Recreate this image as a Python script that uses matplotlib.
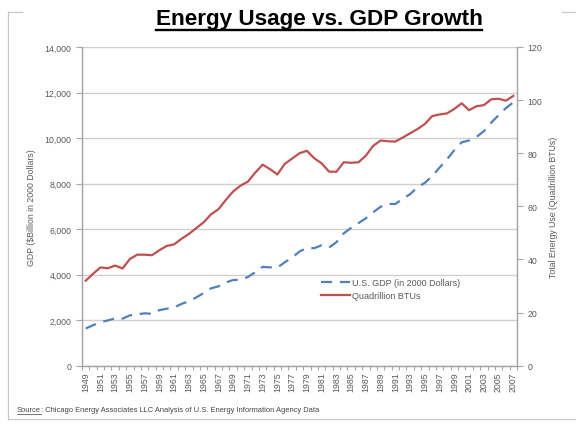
import numpy as np
import matplotlib.pyplot as plt
from matplotlib.lines import Line2D
from matplotlib.ticker import FuncFormatter

plt.rcParams['font.family'] = ['Liberation Sans', 'DejaVu Sans']

# Años 1949-2007
anios = list(range(1949, 2008))

# PIB real de EE.UU. (miles de millones de dólares de 2000)
pib = [1635, 1777, 1915, 1988, 2080, 2065, 2213, 2256, 2301, 2279,
       2441, 2502, 2560, 2715, 2834, 2999, 3191, 3399, 3485, 3653,
       3765, 3772, 3899, 4105, 4342, 4320, 4311, 4541, 4751, 5015,
       5173, 5162, 5292, 5189, 5424, 5814, 6054, 6264, 6475, 6743,
       6981, 7113, 7101, 7337, 7533, 7836, 8032, 8329, 8704, 9067,
       9470, 9817, 9891, 10049, 10301, 10676, 11003, 11319, 11567]

# Consumo total de energía (cuatrillones de BTU)
energia = [32.0, 34.6, 37.0, 36.7, 37.7, 36.6, 40.2, 41.8, 41.8, 41.6,
           43.5, 45.1, 45.7, 47.8, 49.6, 51.8, 54.0, 57.0, 58.9, 62.4,
           65.6, 67.8, 69.3, 72.7, 75.7, 74.0, 72.0, 76.0, 78.0, 80.0,
           80.9, 78.1, 76.2, 73.1, 73.0, 76.6, 76.4, 76.6, 79.1, 82.8,
           84.8, 84.5, 84.4, 85.9, 87.5, 89.1, 91.0, 94.0, 94.6, 95.0,
           96.7, 98.8, 96.2, 97.7, 98.1, 100.3, 100.5, 99.8, 101.6]

azul = '#4F81BD'
rojo = '#C0504D'
gris_eje = '#A6A6A6'
gris_texto = '#5A5A5A'

fig = plt.figure(figsize=(5.76, 4.27), dpi=100)
ax = fig.add_axes([82 / 576, 1 - 366.7 / 427, (517 - 82) / 576, (366.7 - 48) / 427])
ax2 = ax.twinx()

x = np.arange(len(anios))

# Curvas
l1, = ax.plot(x, pib, color=azul, lw=1.6, ls=(0, (5, 3.5)), label='U.S. GDP (in 2000 Dollars)')
l2, = ax2.plot(x, energia, color=rojo, lw=1.6, label='Quadrillion BTUs')

# Eje izquierdo
ax.set_ylim(0, 14000)
ax.set_yticks(np.arange(0, 14001, 2000))
ax.yaxis.set_major_formatter(FuncFormatter(lambda v, p: f'{int(v):,}'))
ax.grid(axis='y', color='#CFCFCF', lw=1)
ax.set_axisbelow(True)
ax.set_ylabel('GDP ($Billion in 2000 Dollars)', fontsize=6.3, color=gris_texto, labelpad=6)

# Eje derecho
ax2.set_ylim(0, 120)
ax2.set_yticks(np.arange(0, 121, 20))
ax2.set_ylabel('Total Energy Use (Quadrillion BTUs)', fontsize=6.3, color=gris_texto, labelpad=5)

# Eje x por categorías
ax.set_xlim(-0.5, len(anios) - 0.5)
ax.set_xticks(x[::2])
ax.set_xticklabels([str(a) for a in anios[::2]], rotation=90)
ax.set_xticks(np.arange(-0.5, len(anios), 1), minor=True)
ax.tick_params(axis='x', which='major', length=0, pad=4)
ax.tick_params(axis='x', which='minor', length=3, color=gris_eje, width=0.8)

for a in (ax, ax2):
    a.tick_params(axis='both', labelsize=6.3, labelcolor=gris_texto)
    a.tick_params(axis='y', length=4, color=gris_eje, width=0.8)
    for lado in ('left', 'right', 'bottom'):
        a.spines[lado].set_color(gris_eje)
        a.spines[lado].set_linewidth(0.9)
    a.spines['top'].set_visible(False)

ax.legend(handles=[l1, l2], loc='upper left', bbox_to_anchor=(0.53, 0.3),
          frameon=False, fontsize=6.5, handlelength=3.2, labelspacing=0.45,
          handletextpad=0.3, labelcolor=gris_texto)

# Título subrayado
titulo = fig.text(319 / 576, 1 - 19 / 427, 'Energy Usage vs. GDP Growth', ha='center', va='center',
                  fontsize=16.2, fontweight='bold', color='black')

# Marco gris del gráfico
marco = dict(transform=fig.transFigure, color='#C8C8C8', lw=0.9)
fig.add_artist(Line2D([8 / 576, 8 / 576], [1 - 13 / 427, 1 - 420 / 427], **marco))
fig.add_artist(Line2D([8 / 576, 22 / 576], [1 - 13 / 427, 1 - 13 / 427], **marco))
fig.add_artist(Line2D([562 / 576, 1], [1 - 13 / 427, 1 - 13 / 427], **marco))
fig.add_artist(Line2D([8 / 576, 1], [1 - 420 / 427, 1 - 420 / 427], **marco))

# Fuente
fuente = fig.text(17 / 576, 1 - 411 / 427, 'Source', fontsize=5.45, color='#444444', va='center')
fig.canvas.draw()
r = fig.canvas.get_renderer()
bb = fuente.get_window_extent(r)
fig.text(bb.x1 / 576, 1 - 411 / 427,
         ': Chicago Energy Associates LLC Analysis of U.S. Energy Information Agency Data',
         fontsize=5.45, color='#444444', va='center')
fig.add_artist(Line2D([bb.x0 / 576, bb.x1 / 576], [(bb.y0 - 0.5) / 427] * 2,
                      transform=fig.transFigure, color='#444444', lw=0.5))
bt = titulo.get_window_extent(r)
fig.add_artist(Line2D([bt.x0 / 576, bt.x1 / 576], [(bt.y0 - 1.5) / 427] * 2,
                      transform=fig.transFigure, color='black', lw=1.7))

fig.savefig('out.png', dpi=100)
